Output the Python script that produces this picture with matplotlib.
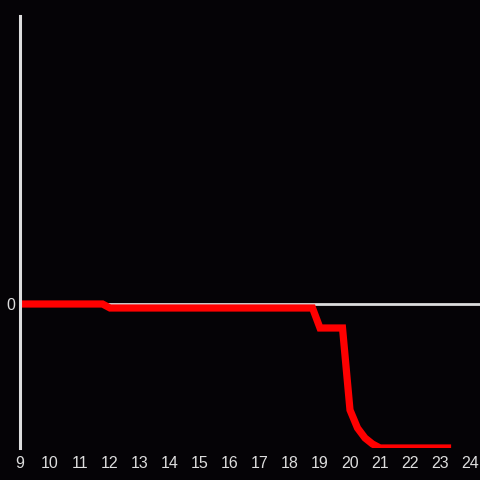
import matplotlib
matplotlib.use("Agg")
import matplotlib.pyplot as plt

plt.rcParams["font.family"] = ["Liberation Sans", "DejaVu Sans"]

hours = [9.0 + 0.25 * i for i in range(58)]  # 9.00 .. 23.25
values = ([0.0] * 12 +            # 9.00 - 11.75
          [-1.0] * 28 +           # 12.00 - 18.75
          [-6.0] * 4 +            # 19.00 - 19.75
          [-26.5, -31.0, -33.5, -35.0] +  # 20.00 - 20.75
          [-36.0] * 10)           # 21.00 - 23.25
xticks = list(range(9, 25))
yticks = [0]

bg = "#050306"
fg = "#dddddd"

fig = plt.figure(figsize=(4.8, 4.8), dpi=100, facecolor=bg)
ax = fig.add_axes([20 / 480, 32 / 480, 460 / 480, 432 / 480])
ax.set_facecolor(bg)

ax.axhline(0, color=fg, lw=2.0, zorder=1)
ax.plot(hours, values, color="#ff0000", lw=5.2, solid_capstyle="projecting",
        solid_joinstyle="miter", zorder=2)

ax.set_xlim(9, 9 + 460 / 30)
ax.set_ylim(-36, 72)
ax.set_xticks(xticks)
ax.set_xticklabels([str(t) for t in xticks])
ax.set_yticks(yticks)
ax.set_yticklabels([str(t) for t in yticks])
ax.tick_params(length=0, colors=fg, labelsize=11.5, pad=5.5)
ax.tick_params(axis="y", pad=3.5)
for s in ["top", "right", "bottom"]:
    ax.spines[s].set_visible(False)
ax.spines["left"].set_color(fg)
ax.spines["left"].set_linewidth(2.2)

fig.savefig("out.png", dpi=100, facecolor=bg)
